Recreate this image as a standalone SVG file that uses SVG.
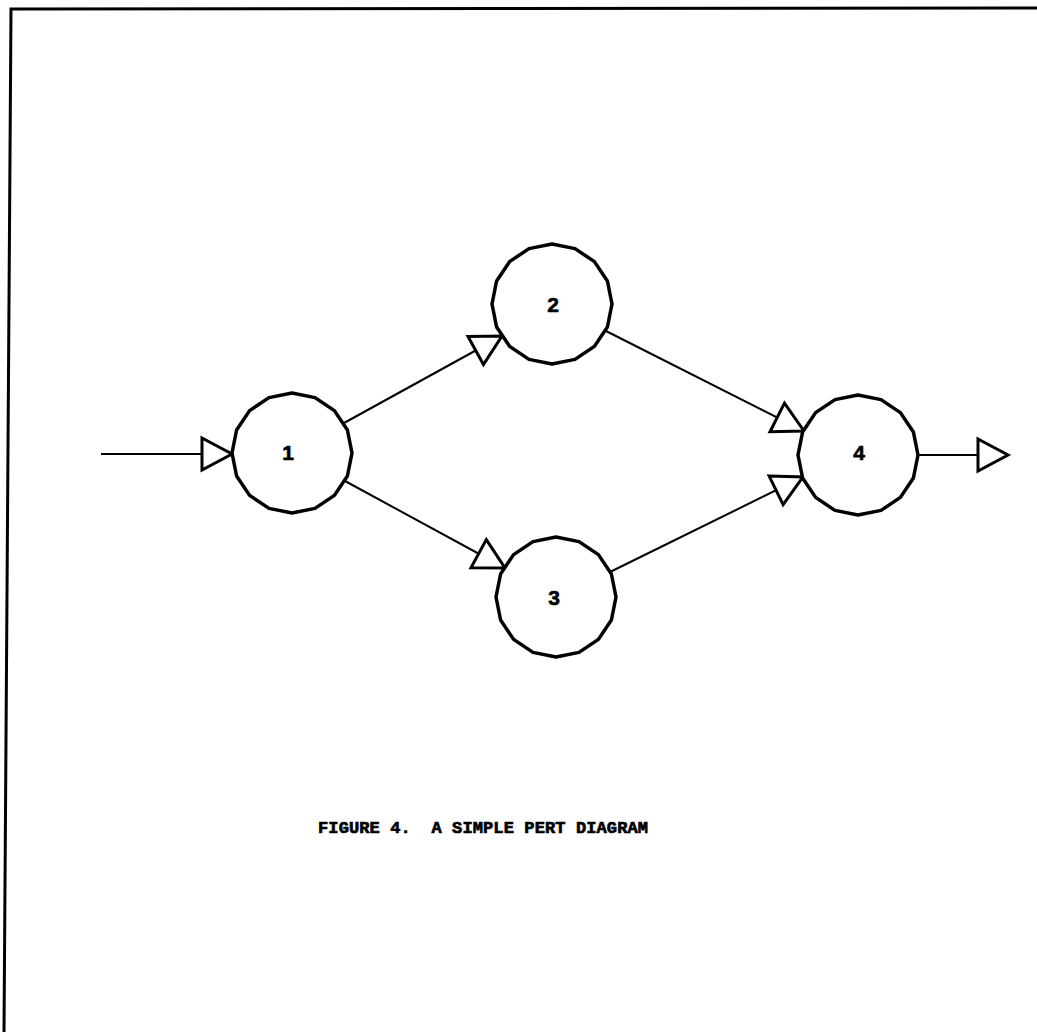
<svg xmlns="http://www.w3.org/2000/svg" xmlns:xlink="http://www.w3.org/1999/xlink" width="1037" height="1032" viewBox="0 0 1037 1032">
  <style>
    .frame { fill: none; stroke: #000; stroke-width: 3; }
    .bubble { fill: #fff; stroke: #000; stroke-width: 3.5; stroke-linejoin: round; }
    .edge { fill: none; stroke: #000; stroke-width: 2; marker-end: url(#head); }
    .label { font-family: "Liberation Sans", Arial, sans-serif; font-weight: bold; font-size: 21px; text-anchor: middle; fill: #000; stroke: #000; stroke-width: 0.6; }
    .caption { font-family: "Liberation Mono", "DejaVu Sans Mono", monospace; font-weight: bold; font-size: 17px; fill: #000; stroke: #000; stroke-width: 0.7; }
  </style>
  <defs>
    <!-- open triangular arrowhead, tip sits on the line end -->
    <marker id="head" markerUnits="userSpaceOnUse" markerWidth="34" markerHeight="36" viewBox="-2 -18 34 36" refX="30" refY="0" orient="auto" overflow="visible">
      <path d="M0,-16 L30,0 L0,16 Z" fill="#fff" stroke="#000" stroke-width="3" stroke-linejoin="miter"/>
    </marker>
    <!-- 16-sided event bubble, radius 60 -->
    <polygon id="bubble" class="bubble" points="60,0 55.4,23 42.4,42.4 23,55.4 0,60 -23,55.4 -42.4,42.4 -55.4,23 -60,0 -55.4,-23 -42.4,-42.4 -23,-55.4 0,-60 23,-55.4 42.4,-42.4 55.4,-23"/>
  </defs>

  <rect width="1037" height="1032" fill="#fff"/>

  <!-- page frame -->
  <path class="frame" d="M1037,8 L11,9 L4,1032"/>

  <!-- activities -->
  <g id="connectors">
    <line class="edge" x1="101" y1="454" x2="232" y2="454"/>
    <line class="edge" x1="344" y1="423" x2="502" y2="336"/>
    <line class="edge" x1="345" y1="481" x2="505" y2="568"/>
    <line class="edge" x1="606" y1="331" x2="804" y2="431"/>
    <line class="edge" x1="610" y1="572" x2="803" y2="477"/>
    <line class="edge" x1="918" y1="455" x2="1008" y2="455"/>
  </g>

  <!-- events -->
  <g id="node-1" transform="translate(292,453)">
    <use xlink:href="#bubble"/>
    <text class="label" x="-4" y="7">1</text>
  </g>
  <g id="node-2" transform="translate(552,304)">
    <use xlink:href="#bubble"/>
    <text class="label" x="1" y="8">2</text>
  </g>
  <g id="node-3" transform="translate(556,597)">
    <use xlink:href="#bubble"/>
    <text class="label" x="-2" y="8">3</text>
  </g>
  <g id="node-4" transform="translate(858,455)">
    <use xlink:href="#bubble"/>
    <text class="label" x="1" y="5">4</text>
  </g>

  <text class="caption" x="318" y="833" textLength="330" lengthAdjust="spacing" xml:space="preserve">FIGURE 4.  A SIMPLE PERT DIAGRAM</text>
</svg>
